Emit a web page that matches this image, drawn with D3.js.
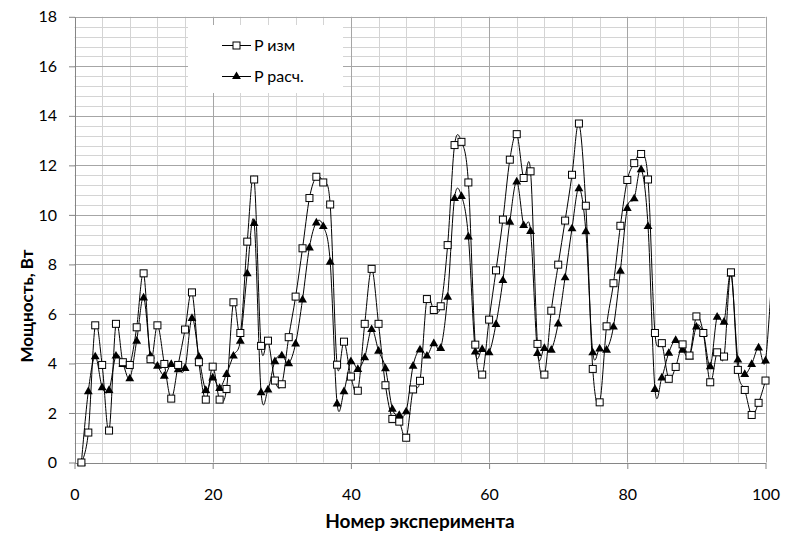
<!DOCTYPE html>
<html>
<head>
<meta charset="utf-8">
<script src="https://cdn.jsdelivr.net/npm/d3@7"></script>
<style>
  html, body { margin: 0; padding: 0; background: #fff; }
  svg { display: block; font-family: Lato, "Open Sans", sans-serif; }
</style>
</head>
<body>
<svg id="chart" width="785" height="534"></svg>
<script>
// Measured power, W (experiments 1..100)
const pMeasured = [
  0.00, 1.21, 5.54, 3.94, 1.29, 5.60, 4.05, 3.94, 5.46, 7.64,
  4.17, 5.54, 3.98, 2.58, 3.94, 5.37, 6.87, 4.05, 2.54, 3.87,
  2.54, 2.97, 6.47, 5.23, 8.92, 11.43, 4.71, 4.92, 3.31, 3.16,
  5.06, 6.70, 8.65, 10.68, 11.54, 11.31, 10.42, 3.95, 4.88, 3.47,
  2.90, 5.60, 7.82, 5.60, 3.12, 1.76, 1.65, 1.00, 2.95, 3.30,
  6.60, 6.16, 6.31, 8.78, 12.82, 12.95, 11.31, 4.76, 3.55, 5.77,
  7.76, 9.81, 12.23, 13.26, 11.49, 11.76, 4.79, 3.55, 6.13, 7.99,
  9.77, 11.62, 13.69, 10.37, 3.78, 2.43, 5.50, 7.24, 9.56, 11.41,
  12.09, 12.46, 11.43, 5.23, 4.82, 3.38, 3.86, 4.77, 4.32, 5.90,
  5.23, 3.24, 4.45, 4.28, 7.68, 3.74, 2.93, 1.92, 2.41, 3.31
];

// Calculated power, W (one extra point continues past the axis end)
const pCalculated = [
  0.00, 2.88, 4.29, 3.04, 2.93, 4.32, 3.98, 3.40, 4.92, 6.67,
  4.32, 3.91, 3.51, 3.98, 3.77, 3.82, 5.84, 4.29, 2.93, 3.44,
  3.01, 3.58, 4.32, 4.92, 7.65, 9.67, 2.84, 2.95, 4.09, 4.33,
  4.01, 4.81, 6.59, 8.69, 9.70, 9.55, 8.11, 2.39, 2.88, 4.09,
  3.78, 4.25, 5.39, 4.52, 3.81, 2.17, 1.92, 2.07, 3.91, 4.57,
  4.32, 4.82, 4.63, 6.70, 10.68, 10.77, 9.13, 4.49, 4.59, 4.45,
  5.60, 7.37, 9.73, 11.35, 9.59, 9.35, 4.42, 4.63, 4.56, 5.62,
  7.48, 9.46, 11.08, 9.34, 4.45, 4.61, 4.56, 5.49, 7.75, 10.28,
  10.67, 11.85, 9.55, 2.97, 3.44, 4.43, 4.95, 4.56, 4.28, 5.49,
  5.23, 3.89, 5.89, 5.69, 7.64, 4.16, 3.58, 3.98, 4.65, 4.12,
  8.00
];

const xTicks = [0, 20, 40, 60, 80, 100];
const yTicks = [0, 2, 4, 6, 8, 10, 12, 14, 16, 18];
const seriesNames = ["P изм", "P расч."];
const xTitle = "Номер эксперимента";
const yTitle = "Мощность, Вт";

(function draw() {
  const svg = d3.select("#chart");
  const pL = 74.5, pR = 765.5, pT = 16.8, pB = 462.5;

  const x = d3.scaleLinear().domain([0, 100]).range([pL, pR]);
  const y = d3.scaleLinear().domain([0, 18]).range([pB, pT]);
  const snap = v => Math.round(v) + 0.5;

  // Minor grid: every 4 along x, every 0.4 along y
  const minorX = d3.range(4, 100, 4).filter(v => v % 20 !== 0);
  const minorY = d3.range(1, 45).filter(k => k % 5 !== 0).map(k => k * 0.4);

  const grid = svg.append("g");
  grid.selectAll("line.mx").data(minorX).join("line")
    .attr("x1", d => snap(x(d))).attr("x2", d => snap(x(d)))
    .attr("y1", pT).attr("y2", pB)
    .attr("stroke", "#d4d4d4").attr("stroke-width", 1);
  grid.selectAll("line.my").data(minorY).join("line")
    .attr("x1", pL).attr("x2", pR)
    .attr("y1", d => snap(y(d))).attr("y2", d => snap(y(d)))
    .attr("stroke", "#d4d4d4").attr("stroke-width", 1);
  // Major grid
  grid.selectAll("line.Mx").data(xTicks.slice(1)).join("line")
    .attr("x1", d => snap(x(d))).attr("x2", d => snap(x(d)))
    .attr("y1", pT).attr("y2", pB)
    .attr("stroke", "#a6a6a6").attr("stroke-width", 1);
  grid.selectAll("line.My").data(yTicks.slice(1)).join("line")
    .attr("x1", pL).attr("x2", pR)
    .attr("y1", d => snap(y(d))).attr("y2", d => snap(y(d)))
    .attr("stroke", "#a6a6a6").attr("stroke-width", 1);

  // Axes
  const xAxis = d3.axisBottom(x).tickValues(xTicks).tickSize(6).tickSizeOuter(0).tickPadding(20);
  const yAxis = d3.axisLeft(y).tickValues(yTicks).tickSize(6).tickSizeOuter(0).tickPadding(12);

  const gx = svg.append("g").attr("transform", `translate(0,${snap(pB) - 0.5})`).call(xAxis);
  const gy = svg.append("g").attr("transform", `translate(${snap(pL) - 0.5},0)`).call(yAxis);
  [gx, gy].forEach(g => {
    g.select(".domain").attr("stroke", "#868686");
    g.selectAll(".tick line").attr("stroke", "#868686");
    g.selectAll(".tick text").attr("fill", "#000").attr("font-size", 16)
      .attr("font-family", "Lato, 'Open Sans', sans-serif");
  });

  // Legend box (drawn over the grid)
  const legend = svg.append("g");
  legend.append("rect").attr("x", 188).attr("y", 25).attr("width", 155).attr("height", 68).attr("fill", "#fff");

  // Series lines, clipped a little past the right edge of the plot
  svg.append("clipPath").attr("id", "plotclip")
    .append("rect").attr("x", pL - 6).attr("y", pT - 6)
    .attr("width", 770 - pL + 6).attr("height", pB - pT + 12);

  const line = d3.line().x(d => x(d[0])).y(d => y(d[1])).curve(d3.curveCardinal.tension(0));

  const measuredPts = pMeasured.map((v, i) => [i + 1, v]);
  const calcPts = pCalculated.map((v, i) => [i + 1, v]);

  const plot = svg.append("g").attr("clip-path", "url(#plotclip)");
  plot.append("path").datum(measuredPts).attr("d", line)
    .attr("fill", "none").attr("stroke", "#000").attr("stroke-width", 1);
  plot.append("path").datum(calcPts).attr("d", line)
    .attr("fill", "none").attr("stroke", "#000").attr("stroke-width", 1);

  const tri = d3.symbol().type(d3.symbolTriangle).size(34);

  plot.selectAll("path.tri").data(calcPts.filter(d => d[0] <= 100)).join("path")
    .attr("class", "tri")
    .attr("transform", d => `translate(${x(d[0])},${y(d[1]) + 0.5})`)
    .attr("d", tri).attr("fill", "#000");

  plot.selectAll("rect.sq").data(measuredPts).join("rect")
    .attr("class", "sq")
    .attr("x", d => x(d[0]) - 3.5).attr("y", d => y(d[1]) - 3.5)
    .attr("width", 7).attr("height", 7)
    .attr("fill", "#fff").attr("stroke", "#000").attr("stroke-width", 1);

  // Legend entries
  const entries = [
    { name: seriesNames[0], y: 45, kind: "square" },
    { name: seriesNames[1], y: 76, kind: "triangle" }
  ];
  entries.forEach(e => {
    legend.append("line").attr("x1", 222).attr("x2", 251).attr("y1", e.y + 0.5).attr("y2", e.y + 0.5)
      .attr("stroke", "#000").attr("stroke-width", 1);
    if (e.kind === "square") {
      legend.append("rect").attr("x", 236.5 - 3.5).attr("y", e.y + 0.5 - 3.5).attr("width", 7).attr("height", 7)
        .attr("fill", "#fff").attr("stroke", "#000");
    } else {
      legend.append("path").attr("d", tri).attr("transform", `translate(236.5,${e.y + 0.5})`).attr("fill", "#000");
    }
    legend.append("text").attr("x", 254).attr("y", e.y).attr("dy", "0.35em")
      .attr("font-size", 16).attr("fill", "#000").text(e.name);
  });

  // Axis titles
  svg.append("text").attr("x", 420).attr("y", 521).attr("dy", "0.35em")
    .attr("text-anchor", "middle").attr("font-weight", "bold").attr("font-size", 19)
    .text(xTitle);
  svg.append("text").attr("transform", "translate(27,306) rotate(-90)").attr("dy", "0.35em")
    .attr("text-anchor", "middle").attr("font-weight", "bold").attr("font-size", 17)
    .text(yTitle);
})();
</script>
</body>
</html>
